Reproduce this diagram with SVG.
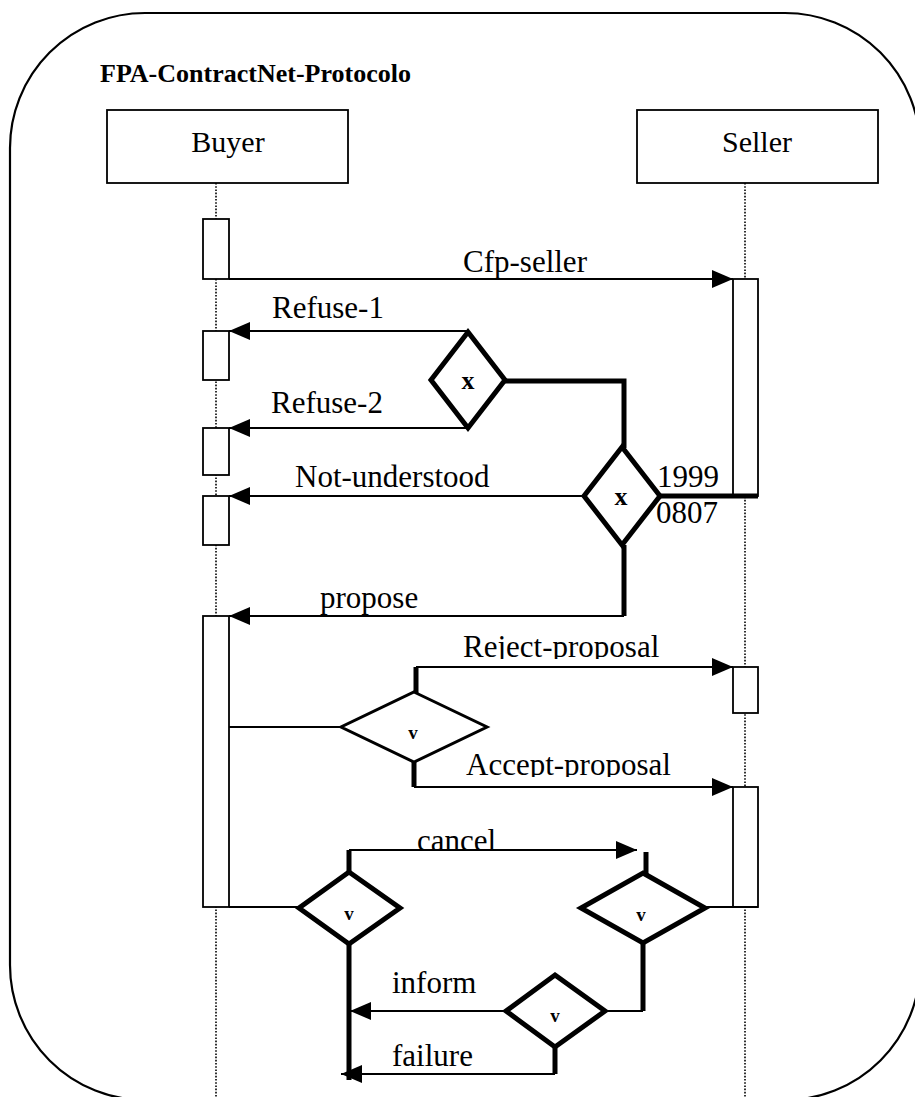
<svg xmlns="http://www.w3.org/2000/svg" width="915" height="1097" viewBox="0 0 915 1097">
  <style>
    text { font-family: "Liberation Serif", "Times New Roman", serif; fill: #000; }
    .title { font-size: 26px; font-weight: bold; }
    .head { font-size: 30px; text-anchor: middle; }
    .lbl { font-size: 31px; }
    .gx { font-size: 26px; font-weight: bold; text-anchor: middle; }
    .gv { font-size: 19px; font-weight: bold; text-anchor: middle; }
    .frame { fill: none; stroke: #000; stroke-width: 2.2; }
    .box { fill: #fff; stroke: #000; stroke-width: 1.8; }
    .act { fill: #fff; stroke: #000; stroke-width: 1.8; }
    .life { fill: none; stroke: #000; stroke-width: 1.6; stroke-dasharray: 1.6 1.6; }
    .thin { fill: none; stroke: #000; stroke-width: 1.8; }
    .thick { fill: none; stroke: #000; stroke-width: 5; }
    .msg { fill: none; stroke: #000; stroke-width: 1.8; marker-end: url(#arrow); }
    .dia { fill: #fff; stroke: #000; stroke-width: 5; stroke-linejoin: miter; }
    .dia-thin { fill: #fff; stroke: #000; stroke-width: 3; stroke-linejoin: miter; }
  </style>
  <defs>
    <marker id="arrow" markerUnits="userSpaceOnUse" markerWidth="21" markerHeight="18" refX="21" refY="9" orient="auto">
      <path d="M0,0 L21,9 L0,18 Z" fill="#000"/>
    </marker>
    <!-- descenders of these two labels are cut off at the baseline -->
    <clipPath id="clipReject"><rect x="440" y="620" width="260" height="39"/></clipPath>
    <clipPath id="clipAccept"><rect x="440" y="738" width="260" height="39"/></clipPath>
  </defs>

  <!-- outer protocol frame -->
  <g id="frame">
    <rect class="frame" x="10" y="13" width="910" height="1087" rx="135" ry="135"/>
    <text class="title" x="100" y="82">FPA-ContractNet-Protocolo</text>
  </g>

  <!-- lifelines -->
  <g id="lifelines">
    <line class="life" x1="216" y1="183" x2="216" y2="1097"/>
    <line class="life" x1="745" y1="183" x2="745" y2="1097"/>
  </g>

  <!-- roles -->
  <g id="buyer">
    <rect class="box" x="107" y="110" width="241" height="73"/>
    <text class="head" x="228" y="152">Buyer</text>
  </g>
  <g id="seller">
    <rect class="box" x="637" y="110" width="241" height="73"/>
    <text class="head" x="757" y="152">Seller</text>
  </g>

  <!-- activation bars -->
  <g id="buyer-activations">
    <rect class="act" x="203" y="219" width="26" height="60"/>
    <rect class="act" x="203" y="331" width="26" height="49"/>
    <rect class="act" x="203" y="428" width="26" height="47"/>
    <rect class="act" x="203" y="496" width="26" height="49"/>
    <rect class="act" x="203" y="616" width="26" height="291"/>
  </g>
  <g id="seller-activations">
    <rect class="act" x="733" y="279" width="25" height="217"/>
    <rect class="act" x="733" y="667" width="25" height="46"/>
    <rect class="act" x="733" y="787" width="25" height="120"/>
  </g>

  <!-- connectors -->
  <g id="connectors">
    <!-- Cfp-seller -->
    <line class="msg" x1="229" y1="279" x2="733" y2="279"/>
    <!-- Refuse-1 / Refuse-2 -->
    <line class="msg" x1="468" y1="331" x2="229" y2="331"/>
    <line class="msg" x1="468" y1="428" x2="229" y2="428"/>
    <!-- link between the two XOR decisions -->
    <polyline class="thick" points="505,381 624,381 624,448"/>
    <!-- seller activation to second decision -->
    <line class="thick" x1="660" y1="496" x2="758" y2="496"/>
    <!-- Not-understood -->
    <line class="msg" x1="584" y1="496" x2="229" y2="496"/>
    <!-- propose -->
    <line class="thick" x1="624" y1="545" x2="624" y2="616"/>
    <line class="msg" x1="624" y1="616" x2="229" y2="616"/>
    <!-- buyer to OR decision -->
    <line class="thin" x1="229" y1="727" x2="342" y2="727"/>
    <!-- Reject-proposal -->
    <line class="thick" x1="416" y1="693" x2="416" y2="667"/>
    <line class="msg" x1="416" y1="667" x2="733" y2="667"/>
    <!-- Accept-proposal -->
    <line class="thick" x1="414" y1="761" x2="414" y2="787"/>
    <line class="msg" x1="414" y1="787" x2="733" y2="787"/>
    <!-- buyer to lower-left decision -->
    <line class="thin" x1="229" y1="907" x2="300" y2="907"/>
    <!-- cancel -->
    <line class="thick" x1="349" y1="873" x2="349" y2="850"/>
    <line class="msg" x1="349" y1="850" x2="637" y2="850"/>
    <line class="thick" x1="646" y1="852" x2="646" y2="874"/>
    <!-- seller to lower-right decision -->
    <line class="thin" x1="704" y1="907" x2="758" y2="907"/>
    <!-- lower-right decision to result decision -->
    <polyline class="thick" points="643,943 643,1011"/>
    <line class="thin" x1="643" y1="1011" x2="604" y2="1011"/>
    <!-- inform -->
    <line class="msg" x1="506" y1="1011" x2="350" y2="1011"/>
    <!-- lower-left decision down -->
    <line class="thick" x1="349" y1="943" x2="349" y2="1080"/>
    <!-- failure -->
    <line class="thick" x1="555" y1="1046" x2="555" y2="1074"/>
    <line class="msg" x1="555" y1="1074" x2="341" y2="1074"/>
  </g>

  <!-- decision nodes -->
  <g id="xor-1">
    <polygon class="dia" points="468,332 505,380 468,428 431,380"/>
    <text class="gx" x="468" y="389">x</text>
  </g>
  <g id="xor-2">
    <polygon class="dia" points="622,447 660,496 622,545 584,496"/>
    <text class="gx" x="621" y="505">x</text>
  </g>
  <g id="or-proposal">
    <polygon class="dia-thin" points="414,692 487,727 414,762 341,727"/>
    <text class="gv" x="413" y="739">v</text>
  </g>
  <g id="or-buyer">
    <polygon class="dia" points="349,872 400,908 349,944 299,908"/>
    <text class="gv" x="349" y="920">v</text>
  </g>
  <g id="or-seller">
    <polygon class="dia" points="643,873 705,908 643,943 581,908"/>
    <text class="gv" x="641" y="921">v</text>
  </g>
  <g id="or-result">
    <polygon class="dia" points="555,975 605,1011 555,1047 506,1011"/>
    <text class="gv" x="555" y="1022">v</text>
  </g>

  <!-- message labels -->
  <g id="labels">
    <text class="lbl" x="463" y="272">Cfp-seller</text>
    <text class="lbl" x="272" y="318">Refuse-1</text>
    <text class="lbl" x="271" y="413">Refuse-2</text>
    <text class="lbl" x="295" y="487">Not-understood</text>
    <text class="lbl" x="657" y="487">1999</text>
    <text class="lbl" x="656" y="523">0807</text>
    <text class="lbl" x="320" y="608">propose</text>
    <text class="lbl" x="463" y="657" clip-path="url(#clipReject)">Reject-proposal</text>
    <text class="lbl" x="466" y="775" clip-path="url(#clipAccept)">Accept-proposal</text>
    <text class="lbl" x="417" y="851">cancel</text>
    <text class="lbl" x="392" y="993">inform</text>
    <text class="lbl" x="392" y="1066">failure</text>
  </g>
</svg>
